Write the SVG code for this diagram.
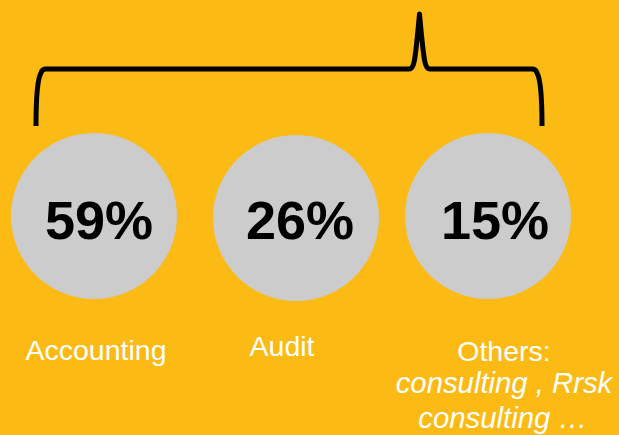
<svg xmlns="http://www.w3.org/2000/svg" width="619" height="435" viewBox="0 0 619 435">
<style>
.bg{fill:#FCBA14}
.c{fill:#CCCCCC}
.pct{font-family:"Liberation Sans",Arial,sans-serif;font-weight:bold;font-size:54px;fill:#000;text-anchor:middle}
.lbl{font-family:"Liberation Sans",Arial,sans-serif;font-size:28.5px;fill:#FFFFFF;text-anchor:middle}
.it{font-style:italic;font-size:29.3px}
.brace{fill:none;stroke:#000;stroke-width:5;stroke-linejoin:round;stroke-linecap:butt}
</style>
<rect class="bg" x="0" y="0" width="619" height="435"/>
<g id="connectors">
<path class="brace" d="M36,126 C36,96 38,78 41,73 Q42,69 46,69 L409,69 Q413,69 414.5,60 C416.5,48 418,30 419.5,14 C421,30 422.5,48 424.5,60 Q426,69 430,69 L532,69 Q536,69 537,73 C540,78 542,96 542,126"/>
</g>
<g id="node-accounting">
<circle class="c" cx="94" cy="216" r="83"/>
<text class="pct" x="99" y="239">59%</text>
<text class="lbl" x="96" y="360">Accounting</text>
</g>
<g id="node-audit">
<circle class="c" cx="296" cy="218" r="83"/>
<text class="pct" x="300" y="239">26%</text>
<text class="lbl" x="282" y="356">Audit</text>
</g>
<g id="node-others">
<circle class="c" cx="488" cy="216" r="83"/>
<text class="pct" x="495" y="239">15%</text>
<text class="lbl" x="504" y="361">Others:</text>
<text class="lbl it" x="504" y="393">consulting , Rrsk</text>
<text class="lbl it" x="503" y="428">consulting …</text>
</g>
</svg>
